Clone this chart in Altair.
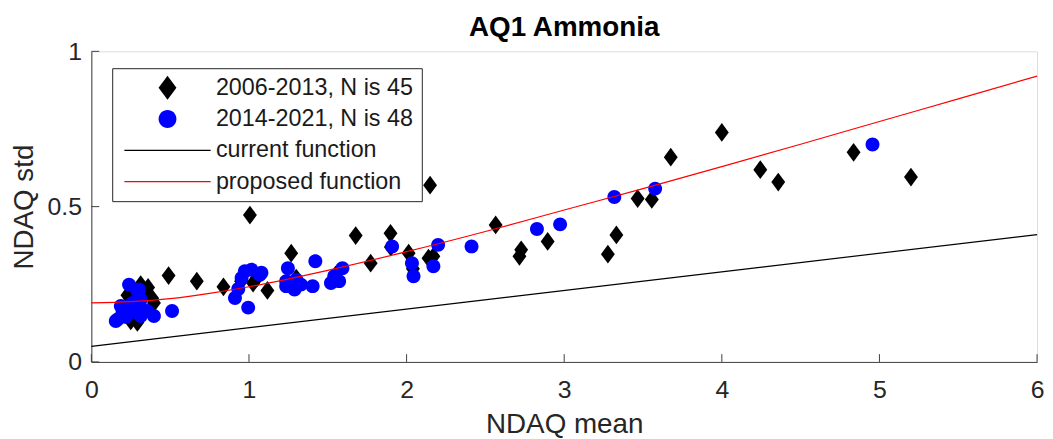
import altair as alt
import pandas as pd

# ---- data ----
black_x = [0.229, 0.25, 0.292, 0.313, 0.386, 0.397, 0.49, 0.669, 0.838, 1.006,
           1.026, 1.117, 1.268, 1.677, 1.772, 1.898, 2.013, 2.139, 2.17, 2.149,
           2.565, 2.716, 2.727, 2.895, 3.277, 3.331, 3.466, 3.556, 3.676, 4.0,
           4.244, 4.358, 4.836, 5.20,
           0.27, 0.30, 0.33, 0.25, 0.95, 1.05, 1.30, 1.55, 1.90, 2.04, 0.36]
black_y = [0.215, 0.132, 0.127, 0.249, 0.205, 0.190, 0.278, 0.260, 0.242, 0.473,
           0.254, 0.230, 0.350, 0.407, 0.318, 0.414, 0.350, 0.334, 0.340, 0.569,
           0.441, 0.340, 0.361, 0.388, 0.347, 0.409, 0.526, 0.523, 0.659, 0.739,
           0.619, 0.579, 0.675, 0.595,
           0.20, 0.18, 0.22, 0.17, 0.26, 0.27, 0.27, 0.28, 0.37, 0.30, 0.24]

blue_x = [0.155, 0.166, 0.187, 0.197, 0.239, 0.25, 0.26, 0.271, 0.292, 0.302,
          0.313, 0.313, 0.313, 0.355, 0.397, 0.512, 0.911, 0.932, 0.953, 0.974,
          0.995, 1.016, 1.069, 1.079, 1.236, 1.236, 1.247, 1.289, 1.30, 1.33,
          1.404, 1.421, 1.52, 1.541, 1.572, 1.593, 1.908, 2.034, 2.044, 2.17,
          2.20, 2.412, 2.827, 2.974, 3.318, 3.577, 4.956, 0.22]
blue_y = [0.132, 0.137, 0.180, 0.158, 0.249, 0.164, 0.190, 0.169, 0.228, 0.233,
          0.201, 0.175, 0.148, 0.164, 0.148, 0.164, 0.206, 0.235, 0.270, 0.292,
          0.175, 0.297, 0.281, 0.287, 0.244, 0.260, 0.302, 0.233, 0.265, 0.249,
          0.244, 0.324, 0.254, 0.276, 0.260, 0.302, 0.372, 0.318, 0.276, 0.308,
          0.377, 0.372, 0.428, 0.443, 0.531, 0.558, 0.700, 0.145]

current_x = [0, 6]
current_y = [0.05, 0.41]

proposed_x = [0, 0.25, 0.5, 0.75, 1, 1.5, 2, 2.5, 3, 3.5, 4, 4.5, 5, 5.5, 6]
proposed_y = [0.190, 0.194, 0.204, 0.221, 0.242, 0.295, 0.355, 0.420, 0.489,
              0.558, 0.629, 0.701, 0.774, 0.847, 0.920]

x_ticks = [0, 1, 2, 3, 4, 5, 6]
y_ticks = [0, 0.5, 1]

series_names = ["2006-2013, N is 45", "2014-2021, N is 48",
                "current function", "proposed function"]
series_colors = ["#000000", "#0000ff", "#000000", "#ff0000"]

DIAMOND = "M0,-1.35L1,0L0,1.35L-1,0Z"
CIRCLE = "M-1,0A1,1,0,1,0,1,0A1,1,0,1,0,-1,0Z"
LINE = "M-4.83,-0.065H4.83V0.065H-4.83Z"
series_shapes = [DIAMOND, CIRCLE, LINE, LINE]

FONT = "Liberation Sans"
AXC = "#262626"

pts = pd.DataFrame({
    "x": black_x + blue_x,
    "y": black_y + blue_y,
    "series": [series_names[0]] * len(black_x) + [series_names[1]] * len(blue_x),
})
cur = pd.DataFrame({"x": current_x, "y": current_y})
prop = pd.DataFrame({"x": proposed_x, "y": proposed_y})
xt = pd.DataFrame({"t": x_ticks})
yt = pd.DataFrame({"t": y_ticks})

xscale = alt.Scale(domain=[0, 6], nice=False, zero=False)
yscale = alt.Scale(domain=[0, 1], nice=False, zero=False)

xaxis = alt.Axis(values=x_ticks, format="~g", grid=False, ticks=False,
                 domainColor="#404040", labelFont=FONT, labelFontSize=25,
                 labelColor=AXC, labelPadding=16, title="NDAQ mean",
                 titleFont=FONT, titleFontSize=28, titleFontWeight="normal",
                 titleColor=AXC, titlePadding=8, labelFlush=False)
yaxis = alt.Axis(values=y_ticks, format="~g", grid=False, ticks=False,
                 domainColor="#404040", labelFont=FONT, labelFontSize=25,
                 labelColor=AXC, labelPadding=10, title="NDAQ std",
                 titleFont=FONT, titleFontSize=28, titleFontWeight="normal",
                 titleColor=AXC, titlePadding=9, labelFlush=False)

legend = alt.Legend(orient="none", legendX=21, legendY=17, title=None,
                    padding=8, symbolSize=324, symbolOffset=36, labelOffset=37,
                    labelFont=FONT, labelFontSize=23.5, labelColor="#1a1a1a",
                    strokeColor="#262626", fillColor="white", rowPadding=6.5,
                    symbolStrokeWidth=0, labelLimit=500, symbolOpacity=1,
                    cornerRadius=0)

points = alt.Chart(pts).mark_point(filled=True, size=196, opacity=1, strokeWidth=0).encode(
    x=alt.X("x:Q", scale=xscale, axis=xaxis),
    y=alt.Y("y:Q", scale=yscale, axis=yaxis),
    color=alt.Color("series:N", scale=alt.Scale(domain=series_names, range=series_colors),
                    legend=legend),
    shape=alt.Shape("series:N", scale=alt.Scale(domain=series_names, range=series_shapes),
                    legend=legend),
)

cur_line = alt.Chart(cur).mark_line(color="#000000", strokeWidth=1.2).encode(
    x=alt.X("x:Q", scale=xscale), y=alt.Y("y:Q", scale=yscale))
prop_line = alt.Chart(prop).mark_line(color="#ff0000", strokeWidth=1.2,
                                      interpolate="monotone").encode(
    x=alt.X("x:Q", scale=xscale), y=alt.Y("y:Q", scale=yscale))

xtick_marks = alt.Chart(xt).mark_rule(color="#404040", strokeWidth=1).encode(
    x=alt.X("t:Q", scale=xscale), y=alt.datum(0), y2=alt.datum(0.025))
ytick_marks = alt.Chart(yt).mark_rule(color="#404040", strokeWidth=1).encode(
    y=alt.Y("t:Q", scale=yscale), x=alt.datum(0), x2=alt.datum(0.05))

chart = alt.layer(points, cur_line, prop_line, xtick_marks, ytick_marks).properties(
    width=953, height=313,
    title=alt.Title("AQ1 Ammonia", font=FONT, fontSize=28, fontWeight="bold",
                    color="#000000", anchor="middle", offset=-3),
    autosize=alt.AutoSizeParams(type="none"),
    padding={"left": 84, "top": 42, "right": 8, "bottom": 76},
).configure_view(stroke=None).configure(background="white")

chart.save("out.html", embed_options={"renderer": "svg", "actions": False})
